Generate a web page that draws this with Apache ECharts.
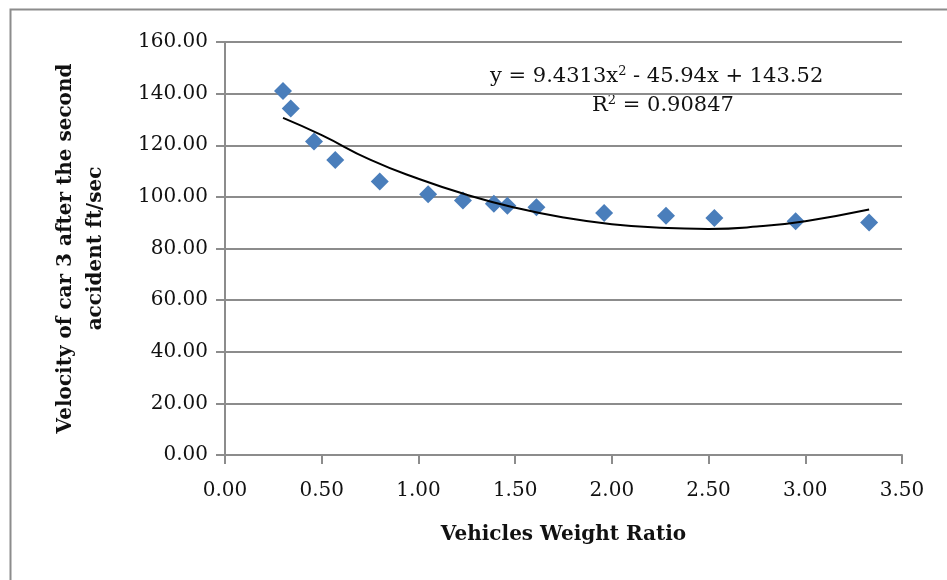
<!DOCTYPE html>
<html>
<head>
<meta charset="utf-8">
<script src="https://cdn.jsdelivr.net/npm/echarts@6/dist/echarts.min.js"></script>
<style>
  html, body { margin: 0; padding: 0; background: #fff; }
  #chart { width: 947px; height: 580px; }
</style>
</head>
<body>
<div id="chart"></div>
<script>
// measured points
const weightRatio = [0.30, 0.34, 0.46, 0.57, 0.80, 1.05, 1.23, 1.39, 1.46, 1.61, 1.96, 2.28, 2.53, 2.95, 3.33]
const velocity = [141.0, 134.2, 121.5, 114.3, 106.0, 101.0, 98.6, 97.3, 96.6, 96.0, 93.8, 92.7, 91.8, 90.6, 90.1]

// trendline
const trendX = [0.30, 0.50, 0.75, 1.00, 1.25, 1.50, 1.75, 2.00, 2.25, 2.50, 2.75, 3.00, 3.33]
const trendY = [130.6, 123.9, 114.4, 107.0, 100.8, 95.8, 92.0, 89.4, 88.0, 87.6, 88.5, 90.6, 95.1]

const yTicks = [0, 20, 40, 60, 80, 100, 120, 140, 160]
const xTicks = [0, 0.5, 1, 1.5, 2, 2.5, 3, 3.5]

const font = 'DejaVu Serif'
const gray = '#8c8c8c'

let chart = echarts.init(document.getElementById('chart'))

let option = {
  animation: false,
  backgroundColor: '#fff',
  grid: {
    left: 225,
    right: 45,
    top: 42,
    bottom: 125,
  },
  xAxis: {
    type: 'value',
    min: xTicks[0],
    max: xTicks[xTicks.length - 1],
    interval: 0.5,
    name: 'Vehicles Weight Ratio',
    nameLocation: 'middle',
    nameGap: 70,
    nameTextStyle: { fontFamily: font, fontWeight: 'bold', fontSize: 20, color: '#111' },
    axisLine: { show: true, onZero: false, lineStyle: { color: gray, width: 2 } },
    axisTick: { show: true, length: 9, lineStyle: { color: gray, width: 2 } },
    axisLabel: {
      fontFamily: font, fontSize: 20, color: '#111', margin: 26,
      formatter: (v) => v.toFixed(2),
    },
    splitLine: { show: false },
  },
  yAxis: {
    type: 'value',
    min: yTicks[0],
    max: yTicks[yTicks.length - 1],
    interval: 20,
    name: 'Velocity of car 3 after the second\naccident ft/sec',
    nameLocation: 'middle',
    nameGap: 114,
    nameRotate: 90,
    nameTextStyle: { fontFamily: font, fontWeight: 'bold', fontSize: 20, color: '#111', lineHeight: 30 },
    axisLine: { show: true, lineStyle: { color: gray, width: 2 } },
    axisTick: { show: true, length: 9, lineStyle: { color: gray, width: 2 } },
    axisLabel: {
      fontFamily: font, fontSize: 20, color: '#111', margin: 17,
      formatter: (v) => v.toFixed(2),
    },
    splitLine: { show: true, lineStyle: { color: gray, width: 2 } },
  },
  graphic: [
    {
      type: 'rect',
      left: 8,
      top: 7,
      shape: { width: 1000, height: 700 },
      style: { fill: 'none', stroke: '#8c8c8c', lineWidth: 2 },
      silent: true,
    },
    {
      type: 'text',
      left: 490,
      top: 65,
      style: {
        text: 'y = 9.4313x{sup|2} - 45.94x + 143.52',
        font: '21px "DejaVu Serif"',
        fill: '#111',
        rich: {
          sup: { fontSize: 13, fontFamily: font, verticalAlign: 'top', padding: [0, 0, 10, 0] },
        },
      },
    },
    {
      type: 'text',
      left: 592,
      top: 94,
      style: {
        text: 'R{sup|2} = 0.90847',
        font: '21px "DejaVu Serif"',
        fill: '#111',
        rich: {
          sup: { fontSize: 13, fontFamily: font, verticalAlign: 'top', padding: [0, 0, 10, 0] },
        },
      },
    },
  ],
  series: [
    {
      type: 'line',
      data: trendX.map((x, i) => [x, trendY[i]]),
      smooth: true,
      showSymbol: false,
      lineStyle: { color: '#000', width: 2 },
      z: 3,
    },
    {
      type: 'scatter',
      data: weightRatio.map((x, i) => [x, velocity[i]]),
      symbol: 'diamond',
      symbolSize: 18,
      itemStyle: { color: '#4a7ebb', opacity: 1 },
      z: 2,
    },
  ],
}

chart.setOption(option)
</script>
</body>
</html>
